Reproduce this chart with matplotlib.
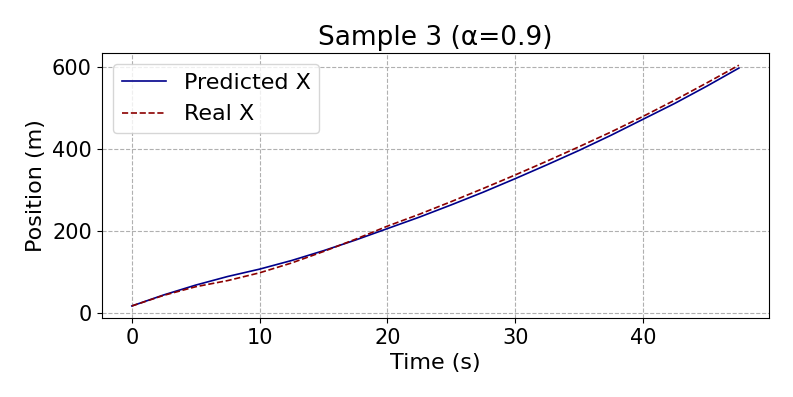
import matplotlib
matplotlib.use("Agg")
import matplotlib.pyplot as plt

time_s = [0, 2.5, 5, 7.5, 10, 12.5, 15, 17.5, 20, 22.5, 25, 27.5, 30, 32.5, 35, 37.5, 40, 42.5, 45, 47.5]
predicted_x = [17, 44, 68, 89, 107, 128, 152, 178, 206, 234, 264, 295, 328, 362, 397, 434, 473, 512, 554, 598]
real_x = [17, 43, 64, 79, 98, 122, 150, 180, 212, 241, 272, 304, 337, 371, 406, 442, 480, 520, 562, 605]

fig = plt.figure(figsize=(7.93, 3.97), dpi=100)
ax = fig.add_axes([0.128, 0.199, 0.842, 0.667])
ax.plot(time_s, predicted_x, color='darkblue', lw=1.2, label='Predicted X')
ax.plot(time_s, real_x, color='darkred', lw=1.2, ls='--', label='Real X')
ax.set_title('Sample 3 (α=0.9)', fontsize=19)
ax.set_xlabel('Time (s)', fontsize=16)
ax.set_ylabel('Position (m)', fontsize=16)
ax.tick_params(labelsize=15)
ax.set_xticks([0, 10, 20, 30, 40])
ax.set_yticks([0, 200, 400, 600])
ax.grid(True, ls='--', color='#b0b0b0', lw=0.8)
ax.legend(loc='upper left', fontsize=16)
fig.savefig('out.png', dpi=100)
